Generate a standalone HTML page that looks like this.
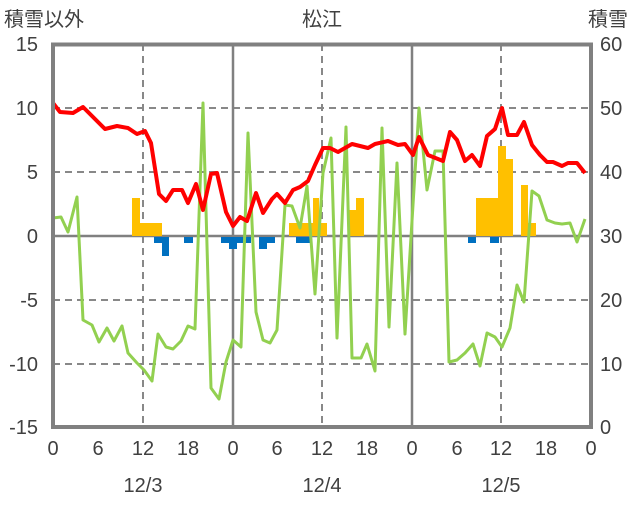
<!DOCTYPE html>
<html><head><meta charset="utf-8"><style>
body{margin:0;background:#fff}
svg text{font-family:"Liberation Sans","Noto Sans CJK JP",sans-serif;fill:#404040}
</style></head><body>
<svg width="636" height="501" viewBox="0 0 636 501" xmlns="http://www.w3.org/2000/svg">
<g font-size="20">
<text x="4" y="26">積雪以外</text>
<text x="322" y="26" text-anchor="middle">松江</text>
<text x="588" y="26">積雪</text>
<g text-anchor="end">
<text x="38" y="51">15</text><text x="38" y="115">10</text><text x="38" y="179">5</text>
<text x="38" y="243">0</text><text x="38" y="307">-5</text><text x="38" y="371">-10</text><text x="38" y="434">-15</text>
</g>
<g>
<text x="600" y="51">60</text><text x="600" y="115">50</text><text x="600" y="179">40</text>
<text x="600" y="243">30</text><text x="600" y="307">20</text><text x="600" y="371">10</text><text x="600" y="434">0</text>
</g>
<g text-anchor="middle">
<text x="53" y="455">0</text><text x="98" y="455">6</text><text x="143" y="455">12</text><text x="188" y="455">18</text>
<text x="233" y="455">0</text><text x="277" y="455">6</text><text x="322" y="455">12</text><text x="367" y="455">18</text>
<text x="412" y="455">0</text><text x="457" y="455">6</text><text x="501" y="455">12</text><text x="546" y="455">18</text><text x="591" y="455">0</text>
<text x="143" y="492">12/3</text><text x="322" y="492">12/4</text><text x="501" y="492">12/5</text>
</g>
</g>
<g stroke="#888" stroke-width="2" stroke-dasharray="7,5" fill="none">
<path d="M53 108H591M53 172H591M53 300H591M53 364H591"/>
<path d="M143 44V427M322 44V427M501 44V427"/>
</g>
<path d="M233 44V427M412 44V427M53 236H591" stroke="#808080" stroke-width="2.5"/>
<g fill="#FFC000">
<rect x="132" y="198" width="8" height="38"/><rect x="140" y="223" width="22" height="13"/>
<rect x="289" y="223" width="38" height="13"/><rect x="313" y="198" width="6" height="38"/>
<rect x="349" y="210" width="7" height="26"/><rect x="356" y="198" width="8" height="38"/>
<rect x="476" y="198" width="22" height="38"/><rect x="498" y="146" width="8" height="90"/>
<rect x="506" y="159" width="7" height="77"/><rect x="521" y="185" width="7" height="51"/>
<rect x="528" y="223" width="8" height="13"/>
</g>
<g fill="#0070C0">
<rect x="154" y="237" width="15" height="6"/><rect x="162" y="237" width="7" height="19"/>
<rect x="184" y="237" width="9" height="6"/><rect x="221" y="237" width="30" height="6"/>
<rect x="229" y="237" width="8" height="12"/><rect x="259" y="237" width="16" height="6"/>
<rect x="259" y="237" width="8" height="12"/><rect x="296" y="237" width="14" height="6"/>
<rect x="468" y="237" width="8" height="6"/><rect x="490" y="237" width="9" height="6"/>
</g>
<polyline fill="none" stroke="#92D050" stroke-width="3" stroke-linejoin="round" points="53,218 61,217 68,232 77,197 83,320 92,325 99,342 107,328 114,341 122,326 128,353 137,363 144,370 152,381 158,334 166,347 173,349 181,341 188,326 195,329 203,103 211,388 219,399 226,362 233,340 241,347 248,133 256,312 263,340 270,343 277,330 285,205 292,206 300,228 307,186 315,294 323,173 331,138 337,338 346,127 352,358 361,358 367,344 375,371 382,128 389,327 397,163 405,334 419,108 427,190 435,151 443,151 449,362 457,360 465,353 473,344 480,366 487,333 495,337 502,347 510,328 517,285 524,302 532,191 539,196 547,220 555,223 562,224 570,223 577,242 585,219"/>
<polyline fill="none" stroke="#FF0000" stroke-width="4" stroke-linejoin="round" points="53,103 60,112 73,113 83,107 105,129 117,126 128,128 137,134 145,131 151,143 159,194 166,201 173,190 182,190 188,203 196,184 203,210 211,174 217,173 226,212 233,226 240,217 247,221 256,193 263,213 272,199 277,194 285,203 293,190 300,187 308,181 315,165 323,148 330,148 338,152 352,144 368,148 375,144 388,141 398,145 405,144 413,155 419,137 428,155 443,161 450,132 457,140 465,161 472,155 480,166 487,136 495,129 502,108 508,135 517,135 524,122 532,145 540,155 547,162 553,162 562,166 568,163 577,163 585,173"/>
<path d="M53 426.5H591" stroke="#7030A0" stroke-width="3"/>
<rect x="53" y="44.5" width="538" height="382.5" fill="none" stroke="#808080" stroke-width="4"/>
</svg>
</body></html>
